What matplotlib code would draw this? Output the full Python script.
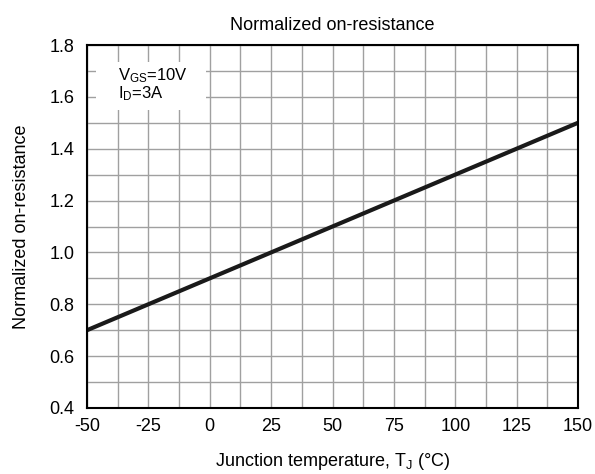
import matplotlib
matplotlib.use('Agg')
import matplotlib.pyplot as plt
from matplotlib.patches import Rectangle
import numpy as np

# data
temp_c = [-50, 150]
r_norm = [0.70, 1.50]
x_ticks = [-50, -25, 0, 25, 50, 75, 100, 125, 150]
y_ticks = [0.4, 0.6, 0.8, 1.0, 1.2, 1.4, 1.6, 1.8]

plt.rcParams['font.family'] = ['Liberation Sans', 'DejaVu Sans']
plt.rcParams['mathtext.default'] = 'regular'

fig = plt.figure(figsize=(5.95, 4.74), dpi=100)
ax = fig.add_axes([87 / 595, 1 - 408 / 474, (578 - 87) / 595, (408 - 45) / 474])

ax.plot(temp_c, r_norm, color='#1a1a1a', linewidth=3, solid_capstyle='butt', zorder=3)

ax.set_xlim(-50, 150)
ax.set_ylim(0.4, 1.8)
ax.set_xticks(x_ticks)
ax.set_xticklabels([str(t) for t in x_ticks])
ax.set_yticks(y_ticks)
ax.set_yticklabels(['{:.1f}'.format(t) for t in y_ticks])
ax.set_xticks(np.arange(-50, 151, 12.5), minor=True)
ax.set_yticks(np.arange(0.4, 1.81, 0.1), minor=True)
ax.grid(which='both', color='#a0a0a0', linewidth=1)
ax.tick_params(which='both', length=0, labelsize=13)
ax.tick_params(axis='y', pad=9)
ax.tick_params(axis='x', pad=7)
for s in ax.spines.values():
    s.set_linewidth(1.5)
    s.set_zorder(4)

ax.set_title('Normalized on-resistance', fontsize=13, pad=11)
ax.set_xlabel('Junction temperature, T$_{J}$ (°C)', fontsize=13, labelpad=12)
ax.set_ylabel('Normalized on-resistance', fontsize=13, labelpad=14)

# white box behind the test conditions
ax.add_patch(Rectangle((-46.3, 1.549), 44.8, 0.185, facecolor='white',
                       edgecolor='none', zorder=2.5))
ax.text(-37.4, 1.716,
        'V$_{GS}$=10V\nI$_{D}$=3A',
        fontsize=12, va='top', ha='left', linespacing=0.95, zorder=5)

fig.savefig('out.png', dpi=100)
